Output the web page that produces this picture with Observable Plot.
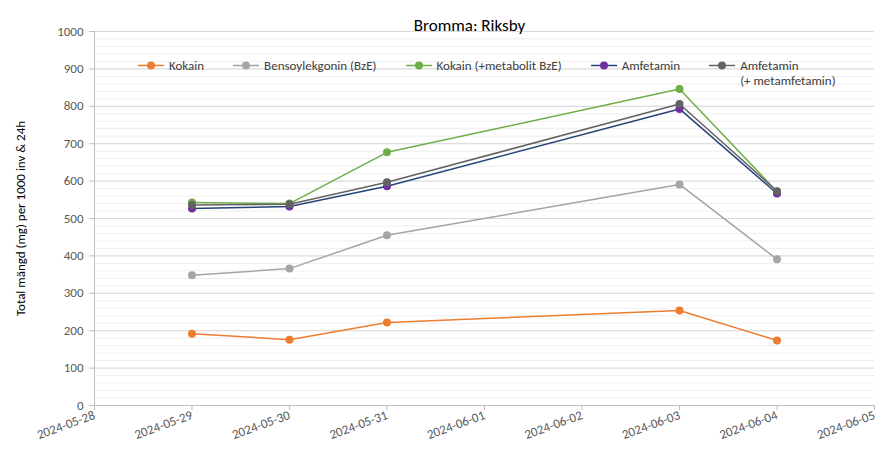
<!DOCTYPE html>
<html><head><meta charset="utf-8">
<script src="https://cdn.jsdelivr.net/npm/d3@7"></script>
<script src="https://cdn.jsdelivr.net/npm/@observablehq/plot@0.6"></script>
<style>
body{margin:0;background:#fff;}
#wrap{position:relative;width:879px;height:452px;font-family:Carlito,'Liberation Sans Narrow','Liberation Sans',sans-serif;}
#legend{position:absolute;top:58px;left:138px;display:flex;gap:29px;font-size:13px;color:#404040;line-height:15px;}
.item{display:flex;align-items:flex-start;}
.item svg{flex:none;margin-right:5px;}
</style></head><body><div id="wrap"><div id="legend"></div></div>
<script>
const title = "Bromma: Riksby";
const yLabel = "Total mängd (mg) per 1000 inv & 24h";
const dates = ["2024-05-29","2024-05-30","2024-05-31","2024-06-03","2024-06-04"];
const kokain = [192,176,222,254,174];
const bze = [348,366,455,591,391];
const kokainBze = [543,540,677,846,572];
const amfetamin = [527,532,586,793,567];
const amfMeta = [536,538,597,806,573];
const seriesNames = ["Kokain","Bensoylekgonin (BzE)","Kokain (+metabolit BzE)","Amfetamin","Amfetamin (+ metamfetamin)"];
const legendLabels = ["Kokain","Bensoylekgonin (BzE)","Kokain (+metabolit BzE)","Amfetamin","Amfetamin<br>(+ metamfetamin)"];
const lineColors = ["#ED7D31","#A5A5A5","#70AD47","#264478","#636363"];
const dotColors = ["#ED7D31","#A5A5A5","#70AD47","#7030A0","#636363"];
const xTickLabels = ["2024-05-28","2024-05-29","2024-05-30","2024-05-31","2024-06-01","2024-06-02","2024-06-03","2024-06-04","2024-06-05"];
const yTicks = [0,100,200,300,400,500,600,700,800,900,1000];

const parse = d3.utcParse("%Y-%m-%d");
const seriesValues = [kokain,bze,kokainBze,amfetamin,amfMeta];
const data = [];
seriesValues.forEach((vals,i)=>vals.forEach((v,j)=>data.push({series:seriesNames[i], idx:i, date:parse(dates[j]), value:v})));
const xTicks = xTickLabels.map(parse);
const yMinor = d3.range(0,1001,20);

const chart = Plot.plot({
  width:879, height:452,
  marginLeft:94, marginRight:5, marginTop:31, marginBottom:47,
  style:{fontFamily:"Carlito,'Liberation Sans Narrow','Liberation Sans',sans-serif", fontSize:"12px", background:"white", overflow:"visible"},
  x:{type:"utc", domain:[xTicks[0], xTicks[xTicks.length-1]]},
  y:{domain:[0,1000]},
  color:{domain:seriesNames, range:lineColors},
  marks:[
    Plot.ruleY(yMinor, {stroke:"#efefef", strokeWidth:1}),
    Plot.ruleY(yTicks.slice(1), {stroke:"#d9d9d9", strokeWidth:1}),
    Plot.ruleY([0], {stroke:"#bfbfbf"}),
    Plot.ruleX([xTicks[0]], {stroke:"#bfbfbf"}),
    Plot.axisY({ticks:yTicks, tickFormat:d=>String(d), tickSize:5, tickPadding:6, stroke:"#bfbfbf", fill:"#595959", label:null, fontSize:13}),
    Plot.axisX({ticks:xTicks, tickFormat:d3.utcFormat("%Y-%m-%d"), tickRotate:-20, tickSize:5, tickPadding:4, stroke:"#bfbfbf", fill:"#595959", label:null, fontSize:13}),
    Plot.text([yLabel], {text:d=>d, frameAnchor:"left", textAnchor:"middle", rotate:-90, dx:-74, fontSize:13, fill:"black"}),
    Plot.text([title], {text:d=>d, frameAnchor:"top", dy:-13, dx:-15, fontSize:17, fill:"black", fontWeight:"normal"}),
    Plot.line(data, {x:"date", y:"value", z:"series", stroke:"series", strokeWidth:1.5}),
    Plot.dot(data, {x:"date", y:"value", fill:d=>dotColors[d.idx], r:4, stroke:"none"})
  ]
});
document.getElementById("wrap").appendChild(chart);

const legend = document.getElementById("legend");
legendLabels.forEach((lab,i)=>{
  const it = document.createElement("div");
  it.className="item";
  it.innerHTML = `<svg width="26" height="15"><line x1="0" x2="26" y1="7.5" y2="7.5" stroke="${lineColors[i]}" stroke-width="1.5"/><circle cx="13" cy="7.5" r="4" fill="${dotColors[i]}"/></svg><span>${lab}</span>`;
  legend.appendChild(it);
});
</script></body></html>
